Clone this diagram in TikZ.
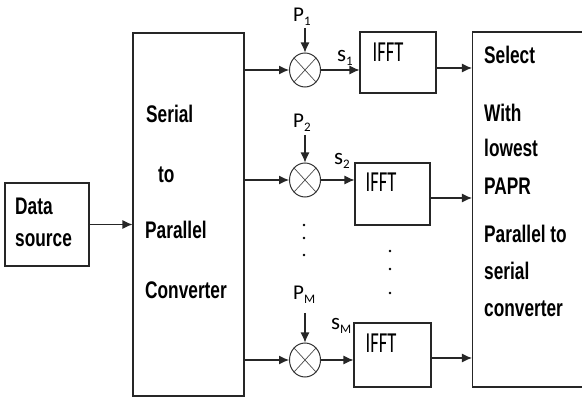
\documentclass[tikz,border=0pt]{standalone}
\usepackage{fontspec}
\newfontfamily\blkfont{Liberation Sans}[FakeStretch=0.72]
\newfontfamily\ifftfont{Carlito}[FakeStretch=0.64]
\newfontfamily\labfont{Carlito}
\newcommand{\lowsub}[1]{\raisebox{-0.3ex}{\fontsize{13}{13}\selectfont #1}}
\usetikzlibrary{shapes.geometric, arrows.meta, positioning}

\begin{document}
\begin{tikzpicture}[
x=1pt, y=-1pt,
% Define block styles
block/.style = {rectangle, draw=black!85, line width=1.1pt, inner sep=0},
mult/.style = {ellipse, draw=black!80, line width=1pt, minimum width=31pt, minimum height=34pt, inner sep=0},
txt/.style = {anchor=base west, inner sep=0, font=\blkfont\bfseries\fontsize{24}{26}\selectfont},
ifft/.style = {inner sep=0, font=\ifftfont\fontsize{29}{30}\selectfont},
lab/.style = {anchor=base west, inner sep=0, font=\labfont\fontsize{21}{23}\selectfont},
arrow/.style = {line width=1.1pt, draw=black!85, -{Latex[length=10pt,width=9pt]}}
]
\useasboundingbox (0,0) rectangle (582,398);

% Blocks
\node (src) [block, minimum width=84pt, minimum height=83pt] at (47,224.5) {};
\node (s2p) [block, minimum width=111pt, minimum height=363pt] at (188.5,214.5) {};
\node (sel) [block, minimum width=111pt, minimum height=355pt] at (528,209.5) {};

\node (fft1) [block, minimum width=76pt, minimum height=61pt] at (398,62.5) {};
\node (fft2) [block, minimum width=75pt, minimum height=62pt] at (392.5,194) {};
\node (fft3) [block, minimum width=77pt, minimum height=64pt] at (392.5,355) {};

% Multipliers
\node (m1) [mult] at (305,70) {};
\node (m2) [mult] at (305,180) {};
\node (m3) [mult] at (305,360) {};
\foreach \m in {m1,m2,m3}{
  \draw [black!70, line width=0.7pt] (\m.north east) -- (\m.south west) (\m.north west) -- (\m.south east);
}

% Block texts
\node [txt] at (15,215) {Data};
\node [txt] at (15,247) {source};
\node [txt] at (146,123) {Serial};
\node [txt] at (158,183) {to};
\node [txt] at (145,239) {Parallel};
\node [txt] at (145,299) {Converter};

\node [txt] at (484,64) {Select};
\node [txt] at (484,122) {With};
\node [txt] at (484,157) {lowest};
\node [txt] at (484,195) {PAPR};
\node [txt] at (484,243) {Parallel to};
\node [txt] at (484,280) {serial};
\node [txt] at (484,317) {converter};

\node [ifft] at (388,52) {IFFT};
\node [ifft] at (381,182) {IFFT};
\node [ifft] at (381,343) {IFFT};

% Labels
\node (p1) [lab] at (293,22) {P\lowsub{1}};
\node (p2) [lab] at (293,128) {P\lowsub{2}};
\node (pm) [lab] at (293,300) {P\lowsub{M}};
\node [lab, font=\labfont\fontsize{23}{24}\selectfont] at (337,62) {s\lowsub{1}};
\node [lab, font=\labfont\fontsize{23}{24}\selectfont] at (334,165) {s\lowsub{2}};
\node [lab, font=\labfont\fontsize{23}{24}\selectfont] at (331,330) {s\lowsub{M}};

% Dots
\foreach \y in {225,238,255}{ \fill (304,\y) circle (1.4pt); }
\foreach \y in {251,269,293}{ \fill (390,\y) circle (1.4pt); }

% Arrows
\draw [arrow] (src) -- (src -| s2p.west);
\draw [arrow] (m1 -| s2p.east) -- (m1);
\draw [arrow] (m2 -| s2p.east) -- (m2);
\draw [arrow] (m3 -| s2p.east) -- (m3);

\draw [arrow] (m1 |- 0,28) -- (m1);
\draw [arrow] (m2 |- 0,135) -- (m2);
\draw [arrow] (m3 |- 0,313) -- (m3);

\draw [arrow] (m1) -- (m1 -| fft1.west);
\draw [arrow] (m2) -- (m2 -| fft2.west);
\draw [arrow] (m3) -- (m3 -| fft3.west);

\draw [arrow] ([yshift=-5.5pt]fft1.east) -- ([yshift=-5.5pt]fft1.east -| sel.west);
\draw [arrow] ([yshift=-4pt]fft2.east) -- ([yshift=-4pt]fft2.east -| sel.west);
\draw [arrow] ([yshift=-3pt]fft3.east) -- ([yshift=-3pt]fft3.east -| sel.west);
\end{tikzpicture}
\end{document}
